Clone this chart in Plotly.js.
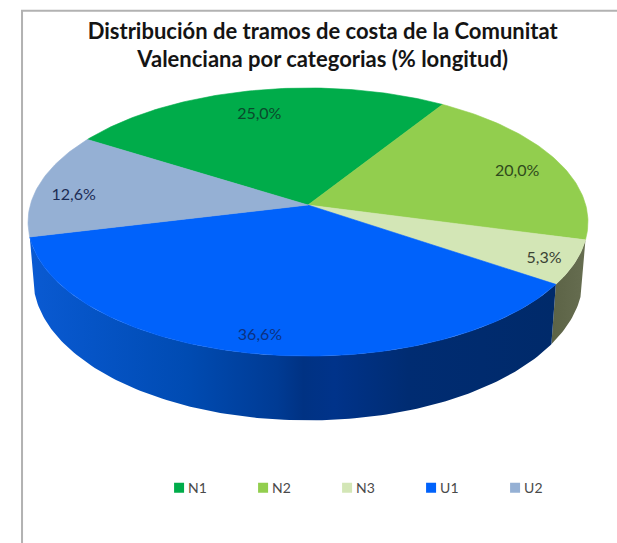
<!DOCTYPE html>
<html>
<head>
<meta charset="utf-8">
<script src="https://cdn.plot.ly/plotly-3.0.1.min.js"></script>
<style>html,body{margin:0;padding:0;background:#fff}#chart{width:617px;height:543px}</style>
</head>
<body>
<div id="chart"></div>
<script>
var categories = ['N1', 'N2', 'N3', 'U1', 'U2'];
var values = [25.0, 20.0, 5.3, 36.6, 12.6];
var valueLabels = ['25,0%', '20,0%', '5,3%', '36,6%', '12,6%'];
var topColors = ['#00ac4a', '#92ce4e', '#d3e6b6', '#0062fb', '#95b0d4'];
var labelColors = ['#0a4a2c', '#2f4a1c', '#3a4234', '#0c3182', '#1c2c55'];
var labelRadius = [0.82, 0.84, 0.89, 0.87, 0.87];
var labelShiftX = [-3, 0, 0, 0, 0];
var labelShiftY = [6, 6, 3, 4, 9];
var titleText = 'Distribución de tramos de costa de la Comunitat<br>Valenciana por categorias (% longitud)';

/* perspective disc: apex position, radii and foreshortening */
var apexX = 308, apexY = 205, radiusX = 277.7, radiusY = 131.9, persp = 0.127;
var wallRadiusX = 272.7, wallRadiusY = 140, wallDrop = 55;
var startAngle = -58;

var total = values.reduce(function (a, b) { return a + b; }, 0);

function topPoint(deg, r) {
  var t = deg * Math.PI / 180, u = r * Math.sin(t), v = r * Math.cos(t), w = 1 + persp * v;
  return [apexX + radiusX * u / w, apexY - radiusY * v / w];
}
function wallPoint(deg) {
  var t = deg * Math.PI / 180, u = Math.sin(t), v = Math.cos(t), w = 1 + persp * v;
  return [apexX + wallRadiusX * u / w, apexY + wallDrop - wallRadiusY * v / w];
}

var edges = [startAngle];
values.forEach(function (v, i) { edges.push(edges[i] + 360 * v / total); });

function sectorTrace(i) {
  var xs = [apexX], ys = [apexY];
  for (var d = edges[i]; d < edges[i + 1]; d += 1) {
    var p = topPoint(d, 1); xs.push(p[0]); ys.push(p[1]);
  }
  var e = topPoint(edges[i + 1], 1); xs.push(e[0], apexX); ys.push(e[1], apexY);
  return {
    x: xs, y: ys, mode: 'lines', fill: 'toself', fillcolor: topColors[i],
    line: {color: topColors[i], width: 0.6}, showlegend: false, hoverinfo: 'skip', name: categories[i]
  };
}
function wallTrace(i, gradientStops) {
  var xs = [], ys = [], d, p;
  for (d = edges[i]; d < edges[i + 1]; d += 1) { p = topPoint(d, 1); xs.push(p[0]); ys.push(p[1]); }
  p = topPoint(edges[i + 1], 1); xs.push(p[0]); ys.push(p[1]);
  p = wallPoint(edges[i + 1]); xs.push(p[0]); ys.push(p[1]);
  for (d = edges[i + 1]; d > edges[i]; d -= 1) { p = wallPoint(d); xs.push(p[0]); ys.push(p[1]); }
  p = wallPoint(edges[i]); xs.push(p[0]); ys.push(p[1]);
  xs.push(xs[0]); ys.push(ys[0]);
  return {
    x: xs, y: ys, mode: 'lines', fill: 'toself',
    fillgradient: {type: 'horizontal', colorscale: gradientStops},
    line: {width: 0}, showlegend: false, hoverinfo: 'skip'
  };
}

var traces = [];
traces.push(wallTrace(2, [[0, '#5c6346'], [1, '#666d50']]));
traces.push(wallTrace(3, [
  [0, '#0a5ad2'], [0.12, '#0554c6'], [0.3, '#004bb2'], [0.47, '#003b94'], [0.52, '#003283'],
  [0.58, '#00338a'], [0.72, '#002c72'], [1, '#002a6a']
]));
categories.forEach(function (c, i) { traces.push(sectorTrace(i)); });

var lx = [], ly = [];
categories.forEach(function (c, i) {
  var p = topPoint((edges[i] + edges[i + 1]) / 2, labelRadius[i]);
  lx.push(p[0] + labelShiftX[i]); ly.push(p[1] + labelShiftY[i]);
});
traces.push({
  x: lx, y: ly, mode: 'text', text: valueLabels, textposition: 'middle center',
  textfont: {family: 'Lato, sans-serif', size: 16, color: labelColors},
  showlegend: false, hoverinfo: 'skip'
});
categories.forEach(function (c, i) {
  traces.push({
    x: [null], y: [null], mode: 'markers', name: c,
    marker: {symbol: 'square', size: 10, color: topColors[i]}, showlegend: true
  });
});

var layout = {
  width: 617, height: 543,
  margin: {l: 0, r: 0, t: 0, b: 0},
  paper_bgcolor: '#ffffff', plot_bgcolor: '#ffffff',
  title: {
    text: titleText,
    font: {family: 'Lato, sans-serif', size: 22, color: '#141414', weight: 700},
    x: 0.523, xanchor: 'center', xref: 'paper', y: 0.929, yanchor: 'top', yref: 'container'
  },
  xaxis: {range: [0, 617], visible: false, fixedrange: true},
  yaxis: {range: [543, 0], visible: false, fixedrange: true},
  showlegend: true,
  legend: {
    orientation: 'h', x: 0.24, xanchor: 'left', y: 0.101, yanchor: 'middle',
    entrywidth: 39, entrywidthmode: 'pixels', itemwidth: 30, traceorder: 'normal',
    font: {family: 'Lato, sans-serif', size: 14, color: '#4a4a4a'},
    bgcolor: 'rgba(0,0,0,0)'
  },
  shapes: [{
    type: 'path', xref: 'paper', yref: 'paper', path: 'M 0.0357 0 L 0.0357 0.98 L 1 0.98',
    line: {color: '#b2b2b2', width: 2}
  }]
};

Plotly.newPlot('chart', traces, layout, {displayModeBar: false, staticPlot: true}).then(function () {
  document.querySelectorAll('#chart .legendsymbols').forEach(function (g) {
    g.setAttribute('transform', 'translate(11,0)');
  });
});
</script>
</body>
</html>
